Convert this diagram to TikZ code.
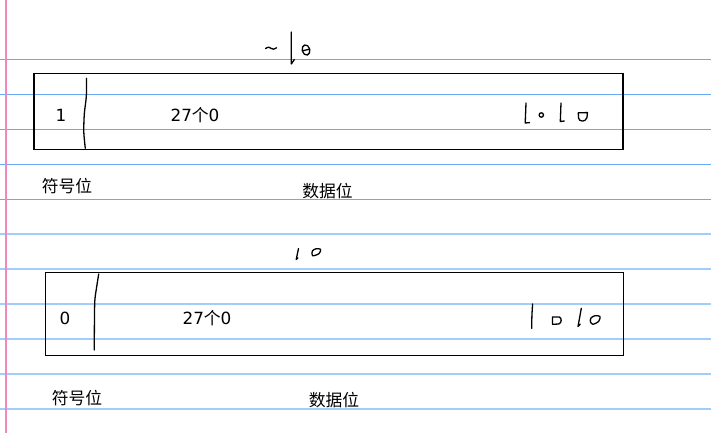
\documentclass[tikz,border=0pt]{standalone}
\usepackage{fontspec}
\setmainfont{DejaVu Sans}
\newfontfamily\cjk{Noto Sans CJK SC}
\definecolor{ruleA}{RGB}{105,170,245}
\definecolor{ruleB}{RGB}{160,205,250}
\definecolor{marginpink}{RGB}{242,135,192}
\tikzset{
  ruleda/.style={draw=ruleA, line width=1.2pt},
  ruledb/.style={draw=ruleB, line width=1.9pt},
  marginline/.style={draw=marginpink, line width=1.6pt},
  regbox/.style={draw=black, line width=1.3pt, inner sep=0pt, outer sep=0pt},
  lbl/.style={font=\fontsize{16.8}{20}\selectfont, inner sep=0pt, anchor=base},
  ink/.style={draw=black, line width=1.3pt, line cap=round, line join=round},
}
\begin{document}
\begin{tikzpicture}[x=1pt,y=-1pt]
\useasboundingbox (0,0) rectangle (711,433);
% notebook rules
\foreach \yy in {59.3,94.3,129.3,164.3,199.3}{\draw[ruleda] (0,\yy) -- (711,\yy);}
\foreach \yy in {234.3,269.3,304.3,339.3,374.3,409.3}{\draw[ruledb] (0,\yy) -- (711,\yy);}
\draw[marginline] (5.7,0) -- (5.7,433);

% top register
\node[regbox, minimum width=589pt, minimum height=76pt] (topbox) at (328.6,111.2) {};
\node[lbl] (topsign) at (61,121.8) {1};
\node[lbl] (topzeros) at (195,121.8) {27{\cjk 个}0};
\node[lbl] (topsignlbl) at (67,192) {\cjk 符号位};
\node[lbl] (topdatalbl) at (327.5,197) {\cjk 数据位};

% bottom register
\node[regbox, minimum width=578pt, minimum height=83pt] (botbox) at (334.3,314.2) {};
\node[lbl] (botsign) at (65,324) {0};
\node[lbl] (botzeros) at (207,324) {27{\cjk 个}0};
\node[lbl] (botsignlbl) at (77,404) {\cjk 符号位};
\node[lbl] (botdatalbl) at (334,406) {\cjk 数据位};

% handwriting: top
\draw[ink] plot[smooth] coordinates {(86.5,78.3) (86.3,96.5) (84.3,114) (83.8,132) (85.3,148.3)};
\draw[ink] (265.5,48.6) .. controls (268,46.6) and (270,47) .. (271,48.3) .. controls (272.5,49.6) and (274.5,49.6) .. (276.5,47.8);
\draw[ink] (291.3,32) -- (291.3,64) -- (294.3,59.5);
\draw[ink, rotate around={15:(306,50)}] (306,50) ellipse [x radius=3.8, y radius=5.2];
\draw[ink] (302.6,50.8) -- (309.4,49.2);
\draw[ink] (526,103) -- (525.2,123) -- (529.5,122.6);
\draw[ink] (541.3,115) circle [radius=2.2];
\draw[ink] (561,103) -- (560.3,121.5) -- (564.3,121);
\draw[ink] (578.3,112.8) -- (578.5,118) .. controls (579,121.8) and (585.5,122.6) .. (587,117.5) -- (587.4,112.6) -- cycle;

% handwriting: bottom
\draw[ink] plot[smooth] coordinates {(98.7,274) (96.5,288) (94.8,301) (94.4,325) (94.3,350)};
\draw[ink] (298.5,248.5) -- (296.2,259.5) -- (298,257.8);
\draw[ink] plot[smooth cycle] coordinates {(312.3,251) (316,248.8) (320.6,249.3) (319,253.6) (312.6,255.8)};
\draw[ink] plot[smooth] coordinates {(532.6,304) (531.9,316) (531.7,328.5)};
\draw[ink] (552.5,317) -- (552.6,324.3) -- (558.8,324) .. controls (561.8,323) and (562,318) .. (559.3,317) -- cycle;
\draw[ink] (581.3,308.3) -- (578,326.5) -- (580.2,324.2);
\draw[ink] plot[smooth cycle] coordinates {(591,318) (595,315.7) (600,316.5) (598.6,321.5) (593,324.3) (590.4,321.8)};
\end{tikzpicture}
\end{document}
